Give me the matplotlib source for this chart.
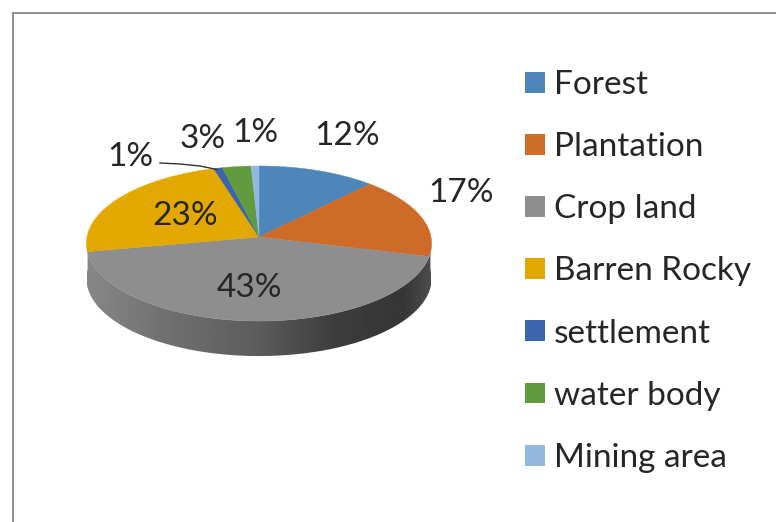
import numpy as np
import matplotlib
matplotlib.use("Agg")
import matplotlib.pyplot as plt
from matplotlib.patches import Patch, PathPatch
from matplotlib.path import Path

categories = ["Forest", "Plantation", "Crop land", "Barren Rocky", "settlement", "water body", "Mining area"]
shares = [12, 17, 43, 23.4, 0.9, 2.9, 0.8]

colors = ["#4E86B9", "#CF6B28", "#8E8E8E", "#E3A800", "#3C64AC", "#619A3F", "#93B7DE"]
label_xy = [(347, 136), (461, 193), (249, 288), (185, 216), (130, 157), (203, 139), (255, 133)]

W, H = 776, 522
fig = plt.figure(figsize=(W / 100, H / 100), dpi=100)
ax = fig.add_axes([0, 0, 1, 1])
ax.set_xlim(0, W)
ax.set_ylim(H, 0)
ax.axis("off")
FONT = "Lato"
FS = 24
TXT = "#262626"

# Frame (cropped at the right and bottom of the picture)
ax.plot([12.5, 12.5, W], [H, 12.5, 12.5], color="#8c8c8c", lw=1.4, solid_joinstyle="miter")

# Perspective pie geometry
CX, CY, RX, RY, K, DEPTH = 259, 237, 172, 77, 0.084, 35


def project(t):
    w = 1 + K * np.cos(t)
    return CX + RX * np.sin(t) / w, CY - RY * np.cos(t) / w


# Side wall with a horizontal gradient
t_side = np.radians(np.linspace(88, 272, 200))
xs, ys = project(t_side)
verts = np.vstack([np.column_stack([xs, ys]), np.column_stack([xs, ys + DEPTH])[::-1], [[xs[0], ys[0]]]])
wall = PathPatch(Path(verts), transform=ax.transData, fc="none", ec="none")
ax.add_patch(wall)
ramp_x = np.array([0.0, 0.2, 0.5, 0.72, 0.92, 1.0])
ramp_v = np.array([0.53, 0.45, 0.36, 0.24, 0.21, 0.30])
ramp = np.interp(np.linspace(0, 1, 256), ramp_x, ramp_v)
im = ax.imshow(ramp[None, :], extent=(87, 431, 360, 240), cmap="gray", vmin=0, vmax=1, aspect="auto", zorder=2)
im.set_clip_path(wall)
ax.set_xlim(0, W)
ax.set_ylim(H, 0)

# Top face wedges
edges = np.cumsum([0] + shares) / sum(shares) * 2 * np.pi
for i, c in enumerate(colors):
    t = np.linspace(edges[i], edges[i + 1], 80)
    x, y = project(t)
    ax.fill(np.r_[CX, x], np.r_[CY, y], color=c, lw=0.3, zorder=3)

# Data labels
for v, (lx, ly) in zip(shares, label_xy):
    ax.text(lx, ly, f"{round(v)}%", ha="center", va="center", fontsize=FS, family=FONT, color=TXT, zorder=5)

# Leader line to the settlement label
ax.plot([160, 180, 200, 217], [163, 164, 166, 169.5], color="#333333", lw=1.0, zorder=4)

# Legend
handles = [Patch(fc=c, ec="none", label=n) for c, n in zip(colors, categories)]
leg = ax.legend(handles=handles, loc="upper left", bbox_to_anchor=(525 / W, 1 - 70 / H),
                bbox_transform=fig.transFigure, frameon=False, prop={"family": FONT, "size": FS},
                handlelength=0.585, handleheight=0.585, handletextpad=0.28, labelspacing=0.965,
                borderpad=0, borderaxespad=0, labelcolor=TXT)

fig.savefig("out.png", dpi=100)
